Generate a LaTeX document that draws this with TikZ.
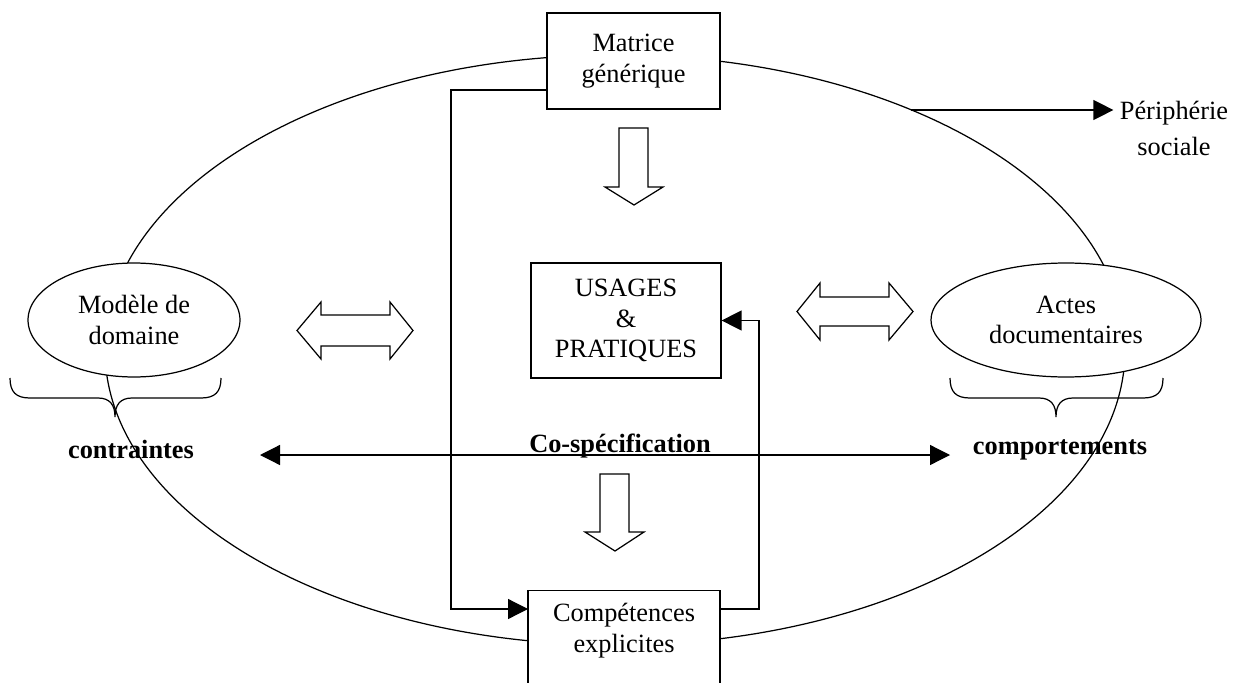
\documentclass[tikz,border=0pt]{standalone}
\usepackage{fontspec}
\setmainfont{Liberation Serif}
\usetikzlibrary{arrows.meta,shapes.geometric}

\begin{document}
\begin{tikzpicture}[x=0.02cm,y=-0.02cm,line width=0.7pt,
	every node/.style={font=\fontsize{15}{17.5}\selectfont,align=center},
	box/.style={draw=black,fill=white,inner sep=0pt},
	oval/.style={ellipse,draw=black,fill=white,inner sep=0pt},
	hollow/.style={draw=black,fill=white,line join=miter},
	arr/.style={-{Triangle[length=0.4cm,width=0.4cm]}},
	arrbi/.style={{Triangle[length=0.4cm,width=0.4cm]}-{Triangle[length=0.4cm,width=0.4cm]}}]
			\useasboundingbox (0,0) rectangle (1239,682);
			\clip (0,0) rectangle (1239,682);

			%outer ellipse
			\draw (615,350) ellipse [x radius=510,y radius=295];

			%hollow arrows
			\draw[hollow] (619,128) -- (648,128) -- (648,187) -- (663,187) -- (634,205) -- (605,187) -- (619,187) -- cycle;
			\draw[hollow] (600,474) -- (629,474) -- (629,532) -- (644,532) -- (615,551) -- (585,532) -- (600,532) -- cycle;
			\draw[hollow] (297,330.5) -- (321,302) -- (321,315) -- (390,315) -- (390,302) -- (413,330.5) -- (390,359) -- (390,346) -- (321,346) -- (321,359) -- cycle;
			\draw[hollow] (797,311.5) -- (820,283) -- (820,297) -- (889,297) -- (889,283) -- (913,311.5) -- (889,340) -- (889,326) -- (820,326) -- (820,340) -- cycle;

			%boxes
			\node[box,minimum width=3.46cm,minimum height=1.92cm] (matrice) at (633.5,61) {Matrice\\générique};
			\node[box,minimum width=3.8cm,minimum height=2.3cm] (usages) at (626,320.5) {USAGES\\\&\\PRATIQUES};
			\node[box,minimum width=3.84cm,inner ysep=0.26cm,anchor=north] (competences) at (624,590) {Compétences\\explicites\\\mbox{}};

			%ellipses
			\node[oval,minimum width=4.24cm,minimum height=2.28cm] (modele) at (134,320) {Modèle de\\domaine};
			\node[oval,minimum width=5.4cm,minimum height=2.28cm] (actes) at (1066,320) {Actes\\documentaires};

			%braces
			\draw (10,378) .. controls (10,392) and (16,398) .. (30,398) -- (98,398) .. controls (110,398) and (115,405) .. (115,417) .. controls (115,405) and (120,398) .. (132,398) -- (201,398) .. controls (215,398) and (221,392) .. (221,378);
			\draw (950,378) .. controls (950,392) and (956,398) .. (970,398) -- (1039,398) .. controls (1051,398) and (1056,405) .. (1056,417) .. controls (1056,405) and (1061,398) .. (1073,398) -- (1143,398) .. controls (1157,398) and (1163,392) .. (1163,378);

			%labels
			\node[font=\fontsize{15}{17.5}\selectfont\bfseries] (contraintes) at (131,449) {contraintes};
			\node[font=\fontsize{15}{17.5}\selectfont\bfseries] (comportements) at (1060,450) {comportements};
			\node[font=\fontsize{15}{17.5}\selectfont\bfseries] (cospec) at (620,446) {Co-spécification};
			\node (periph) at (1174,128) {Périphérie\\[3pt]sociale};

			%edges
			\coordinate (m1) at (547,90);
			\coordinate (cin) at (528,609);
			\coordinate (cout) at (720,609);
			\coordinate (cl) at (260,455);
			\coordinate (cr) at (950,455);
			\coordinate (p0) at (911,110);
			\draw[arr] (m1) -- ++(-96,0) |- (cin);
			\draw[arr] (cout) -- ++(39,0) |- (usages.east);
			\draw[arrbi] (cl) -- (cr);
			\draw[arr] (p0) -- (p0 -| periph.west);
		\end{tikzpicture}
\end{document}
